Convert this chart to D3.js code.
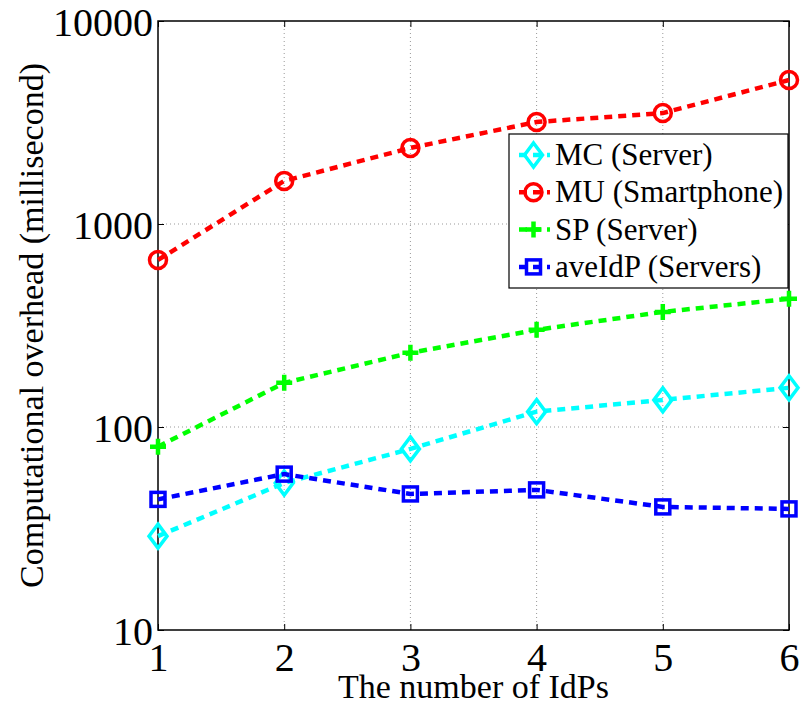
<!DOCTYPE html>
<html><head><meta charset="utf-8">
<script src="https://cdn.jsdelivr.net/npm/d3@7"></script>
<style>body{margin:0;background:#fff}svg{display:block}
svg text{font-family:"Liberation Serif","DejaVu Serif",serif;}</style>
</head><body>
<svg id="c" width="801" height="705"></svg>
<script>
const xValues = [1, 2, 3, 4, 5, 6];
const mcServer = [29, 53, 78, 119, 136, 156];
const muSmartphone = [665, 1630, 2370, 3180, 3520, 5120];
const spServer = [80, 165, 232, 301, 369, 428];
const aveIdP = [44, 58.6, 46.8, 49, 40.4, 39.5];
const yTicks = [10, 100, 1000, 10000];
const xTicks = [1, 2, 3, 4, 5, 6];
const seriesNames = ["MC (Server)", "MU (Smartphone)", "SP (Server)", "aveIdP (Servers)"];
const seriesColors = ["#00ffff", "#ff0000", "#00ff00", "#0000ff"];
const seriesMarkers = ["diamond", "circle", "plus", "square"];
const seriesData = [mcServer, muSmartphone, spServer, aveIdP];

const svg = d3.select("#c");
const L = 158, R = 789, T = 21, B = 630;
const x = d3.scaleLinear().domain([1, 6]).range([L, R]);
const y = d3.scaleLog().domain([10, 10000]).range([B, T]);

// grid
const grid = svg.append("g").attr("stroke", "#999").attr("stroke-width", 1).attr("stroke-dasharray", "1,3");
xTicks.slice(1, -1).forEach(v => grid.append("line").attr("x1", x(v)).attr("x2", x(v)).attr("y1", T).attr("y2", B));
yTicks.slice(1, -1).forEach(v => grid.append("line").attr("x1", L).attr("x2", R).attr("y1", y(v)).attr("y2", y(v)));

// axes
const xAxis = d3.axisBottom(x).tickValues(xTicks).tickFormat(d3.format("d")).tickSizeInner(-6).tickSizeOuter(0).tickPadding(13);
const yAxis = d3.axisLeft(y).tickValues(yTicks).tickFormat(d3.format("d")).tickSizeInner(-6).tickSizeOuter(0).tickPadding(5);
const gx = svg.append("g").attr("transform", `translate(0,${B})`).call(xAxis);
const gy = svg.append("g").attr("transform", `translate(${L},0)`).call(yAxis);
[gx, gy].forEach(g => {
  g.select(".domain").remove();
  g.selectAll("line").attr("stroke", "#000");
  g.selectAll("text").attr("font-size", 40).attr("fill", "#000").attr("font-family", null);
});
gx.selectAll("text").attr("dy", "0.71em");
gy.selectAll("text").attr("dy", "0.36em");
// top/right mirrored ticks
const gt = svg.append("g").attr("transform", `translate(0,${T})`).call(d3.axisTop(x).tickValues(xTicks).tickSizeInner(-6).tickSizeOuter(0).tickFormat(""));
const gr = svg.append("g").attr("transform", `translate(${R},0)`).call(d3.axisRight(y).tickValues(yTicks).tickSizeInner(-6).tickSizeOuter(0).tickFormat(""));
[gt, gr].forEach(g => { g.select(".domain").remove(); g.selectAll("line").attr("stroke", "#000"); });
gx.attr("font-family", null); gy.attr("font-family", null); gt.attr("font-family", null); gr.attr("font-family", null);

svg.append("rect").attr("x", L).attr("y", T).attr("width", R - L).attr("height", B - T)
  .attr("fill", "none").attr("stroke", "#000").attr("stroke-width", 1.5);

// labels
svg.append("text").attr("x", (L + R) / 2).attr("y", 698).attr("text-anchor", "middle")
  .attr("font-size", 34).text("The number of IdPs");
svg.append("text").attr("transform", `translate(43,${(T + B) / 2}) rotate(-90)`).attr("text-anchor", "middle")
  .attr("font-size", 34).text("Computational overhead (millisecond)");

function marker(g, type, cx, cy, color) {
  const sw = 3.5;
  if (type === "circle") g.append("circle").attr("cx", cx).attr("cy", cy).attr("r", 8.5).attr("fill", "none").attr("stroke", color).attr("stroke-width", sw);
  else if (type === "square") g.append("rect").attr("x", cx - 7).attr("y", cy - 7).attr("width", 14).attr("height", 14).attr("fill", "none").attr("stroke", color).attr("stroke-width", sw);
  else if (type === "diamond") g.append("path").attr("d", `M${cx},${cy - 12}L${cx + 9},${cy}L${cx},${cy + 12}L${cx - 9},${cy}Z`).attr("fill", "none").attr("stroke", color).attr("stroke-width", sw);
  else if (type === "plus") g.append("path").attr("d", `M${cx - 8},${cy}H${cx + 8}M${cx},${cy - 8}V${cy + 8}`).attr("fill", "none").attr("stroke", color).attr("stroke-width", 4.5);
}

const line = d3.line().x((d, i) => x(xValues[i])).y(d => y(d));
seriesData.forEach((data, k) => {
  const g = svg.append("g");
  g.append("path").attr("d", line(data)).attr("fill", "none").attr("stroke", seriesColors[k])
    .attr("stroke-width", 4.5).attr("stroke-dasharray", "8,6");
  data.forEach((v, i) => marker(g, seriesMarkers[k], x(xValues[i]), y(v), seriesColors[k]));
});

// legend
const lg = svg.append("g");
lg.append("rect").attr("x", 509).attr("y", 134).attr("width", 279).attr("height", 154)
  .attr("fill", "#fff").attr("stroke", "#000").attr("stroke-width", 1.2);
seriesNames.forEach((name, k) => {
  const cy = 155 + k * 37.3;
  lg.append("line").attr("x1", 517).attr("x2", 550).attr("y1", cy).attr("y2", cy)
    .attr("stroke", seriesColors[k]).attr("stroke-width", 4.5).attr("stroke-dasharray", "8,6").attr("stroke-dashoffset", -2);
  marker(lg, seriesMarkers[k], 533.5, cy, seriesColors[k]);
  lg.append("text").attr("x", 555).attr("y", cy + 10).attr("font-size", 31).text(name);
});
</script>
</body></html>
